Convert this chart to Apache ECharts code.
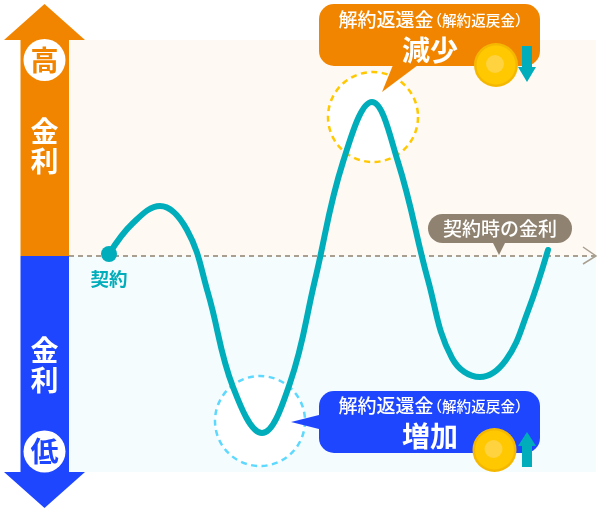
<!DOCTYPE html>
<html><head><meta charset="utf-8">
<style>html,body{margin:0;padding:0;background:#fff}#c{width:600px;height:512px}</style>
<script src="https://cdn.jsdelivr.net/npm/echarts@6/dist/echarts.min.js"></script>
</head><body><div id="c"></div>
<script>
const timeline = [109,133,160,187,208,233,262,290,315,343,372,398,428,452,480,506,528,548];
const rateLevel = [2,33,50,26,-37,-131,-177,-127,-24,94,154,94,-24,-102,-121,-104,-55,6];
const contractPoint = [[109,2]];
const axisLabels = {high:'高', low:'低', rate:['金','利'], contract:'契約', contractRate:'契約時の金利'};
const calloutLabels = {title:'解約返還金', sub:'（解約返戻金）', decrease:'減少', increase:'増加'};

const FONT = '"Noto Sans CJK JP","Noto Sans",sans-serif';
const ORANGE='#f28500', BLUE='#1f46ff', TEAL='#00adbb', BROWN='#8f8270';
const Z=-50;
function txt(t,x,y,size,fill,z,weight){return {type:'text',z:z||60,style:{text:t,x,y,fill,font:(weight||700)+' '+size+'px '+FONT,textAlign:'center',textVerticalAlign:'middle'}};}
function rect(x,y,w,h,fill,z,r){return {type:'rect',z:z||Z,shape:{x,y,width:w,height:h,r:r||0},style:{fill}};}
function poly(points,fill,z){return {type:'polygon',z:z||Z,shape:{points},style:{fill}};}
function coin(cx,cy){return [
 {type:'circle',z:52,shape:{cx,cy,r:22},style:{fill:'#f5b800'}},
 {type:'circle',z:53,shape:{cx,cy,r:19.5},style:{fill:'#ffc800'}},
 {type:'circle',z:54,shape:{cx:cx-1,cy:cy-1,r:9},style:{fill:'#ffd23f'}}
];}
const g=[
 rect(69,40,527,216,'#fef9f3'), rect(69,256,527,216,'#f5fcfd'),
 rect(20.5,40,48.5,216,ORANGE,-40), rect(20.5,256,48.5,216,BLUE,-40),
 poly([[44.5,4],[85,40],[4,40]],ORANGE,-40), poly([[44.5,508],[85,472],[4,472]],BLUE,-40),
 {type:'circle',z:-30,shape:{cx:44.5,cy:60,r:21},style:{fill:'#fff'}},
 {type:'circle',z:-30,shape:{cx:44.5,cy:451.5,r:21},style:{fill:'#fff'}},
 txt(axisLabels.high,44.5,60.5,28,ORANGE),
 txt(axisLabels.low,44.5,451.5,28,BLUE),
 txt(axisLabels.rate[0],44.5,131,28,'#fff'), txt(axisLabels.rate[1],44.5,161,28,'#fff'),
 txt(axisLabels.rate[0],44.5,350,28,'#fff'), txt(axisLabels.rate[1],44.5,380,28,'#fff'),
 {type:'line',z:-35,shape:{x1:69,y1:256,x2:596,y2:256},style:{stroke:'#a89f91',lineWidth:2,lineDash:[5,4]}},
 {type:'polyline',z:-35,shape:{points:[[583,247],[596,256],[583,264]]},style:{stroke:'#a89f91',lineWidth:1.5,fill:null}},
 rect(428,214,144,29,BROWN,-20,14.5),
 poly([[493,243],[505,243],[499,255]],BROWN,-20),
 txt(axisLabels.contractRate,500,229,19,'#fff',60,500),
 txt(axisLabels.contract,109,279,18.5,TEAL,60,700),
 {type:'circle',z:-10,shape:{cx:373,cy:117,r:45},style:{fill:'#fff',stroke:'#ffc800',lineWidth:2.5,lineDash:[6,4.5]}},
 {type:'circle',z:-10,shape:{cx:260,cy:421,r:45},style:{fill:'#fff',stroke:'#5dd8ff',lineWidth:2.5,lineDash:[6,4.5]}},
 poly([[393,65],[418,65],[382,92]],ORANGE,40),
 rect(319,4,221,62,ORANGE,40,15),
 txt(calloutLabels.title,386,19.5,19,'#fff',60,500),
 txt(calloutLabels.sub,478.5,20,14.6,'#fff',60,500),
 txt(calloutLabels.decrease,430,50,28,'#fff',60,700),
 ...coin(496,65),
 rect(522,46,10,22,TEAL,55),
 poly([[518,67],[536,67],[527,82]],TEAL,55),
 poly([[319,415],[319,429],[291,422]],BLUE,40),
 rect(319,391,221,62,BLUE,40,15),
 txt(calloutLabels.title,386,406,19,'#fff',60,500),
 txt(calloutLabels.sub,478.5,406.5,14.6,'#fff',60,500),
 txt(calloutLabels.increase,430,436,28,'#fff',60,700),
 ...coin(494.5,450),
 rect(522,445,10,22,TEAL,55),
 poly([[518,446],[536,446],[527,432]],TEAL,55)
];
const chart=echarts.init(document.getElementById('c'),null,{renderer:'canvas',width:600,height:512});
chart.setOption({
 animation:false,
 grid:{left:0,right:0,top:0,bottom:0},
 xAxis:{type:'value',min:0,max:600,show:false},
 yAxis:{type:'value',min:-256,max:256,show:false},
 graphic:{elements:g},
 series:[
  {type:'line',z:5,data:timeline.map((x,i)=>[x,rateLevel[i]]),smooth:0.4,showSymbol:false,lineStyle:{color:TEAL,width:6,cap:'round'}},
  {type:'scatter',z:6,data:contractPoint,symbol:'circle',symbolSize:16,itemStyle:{color:TEAL,opacity:1}}
 ]
});
</script></body></html>
